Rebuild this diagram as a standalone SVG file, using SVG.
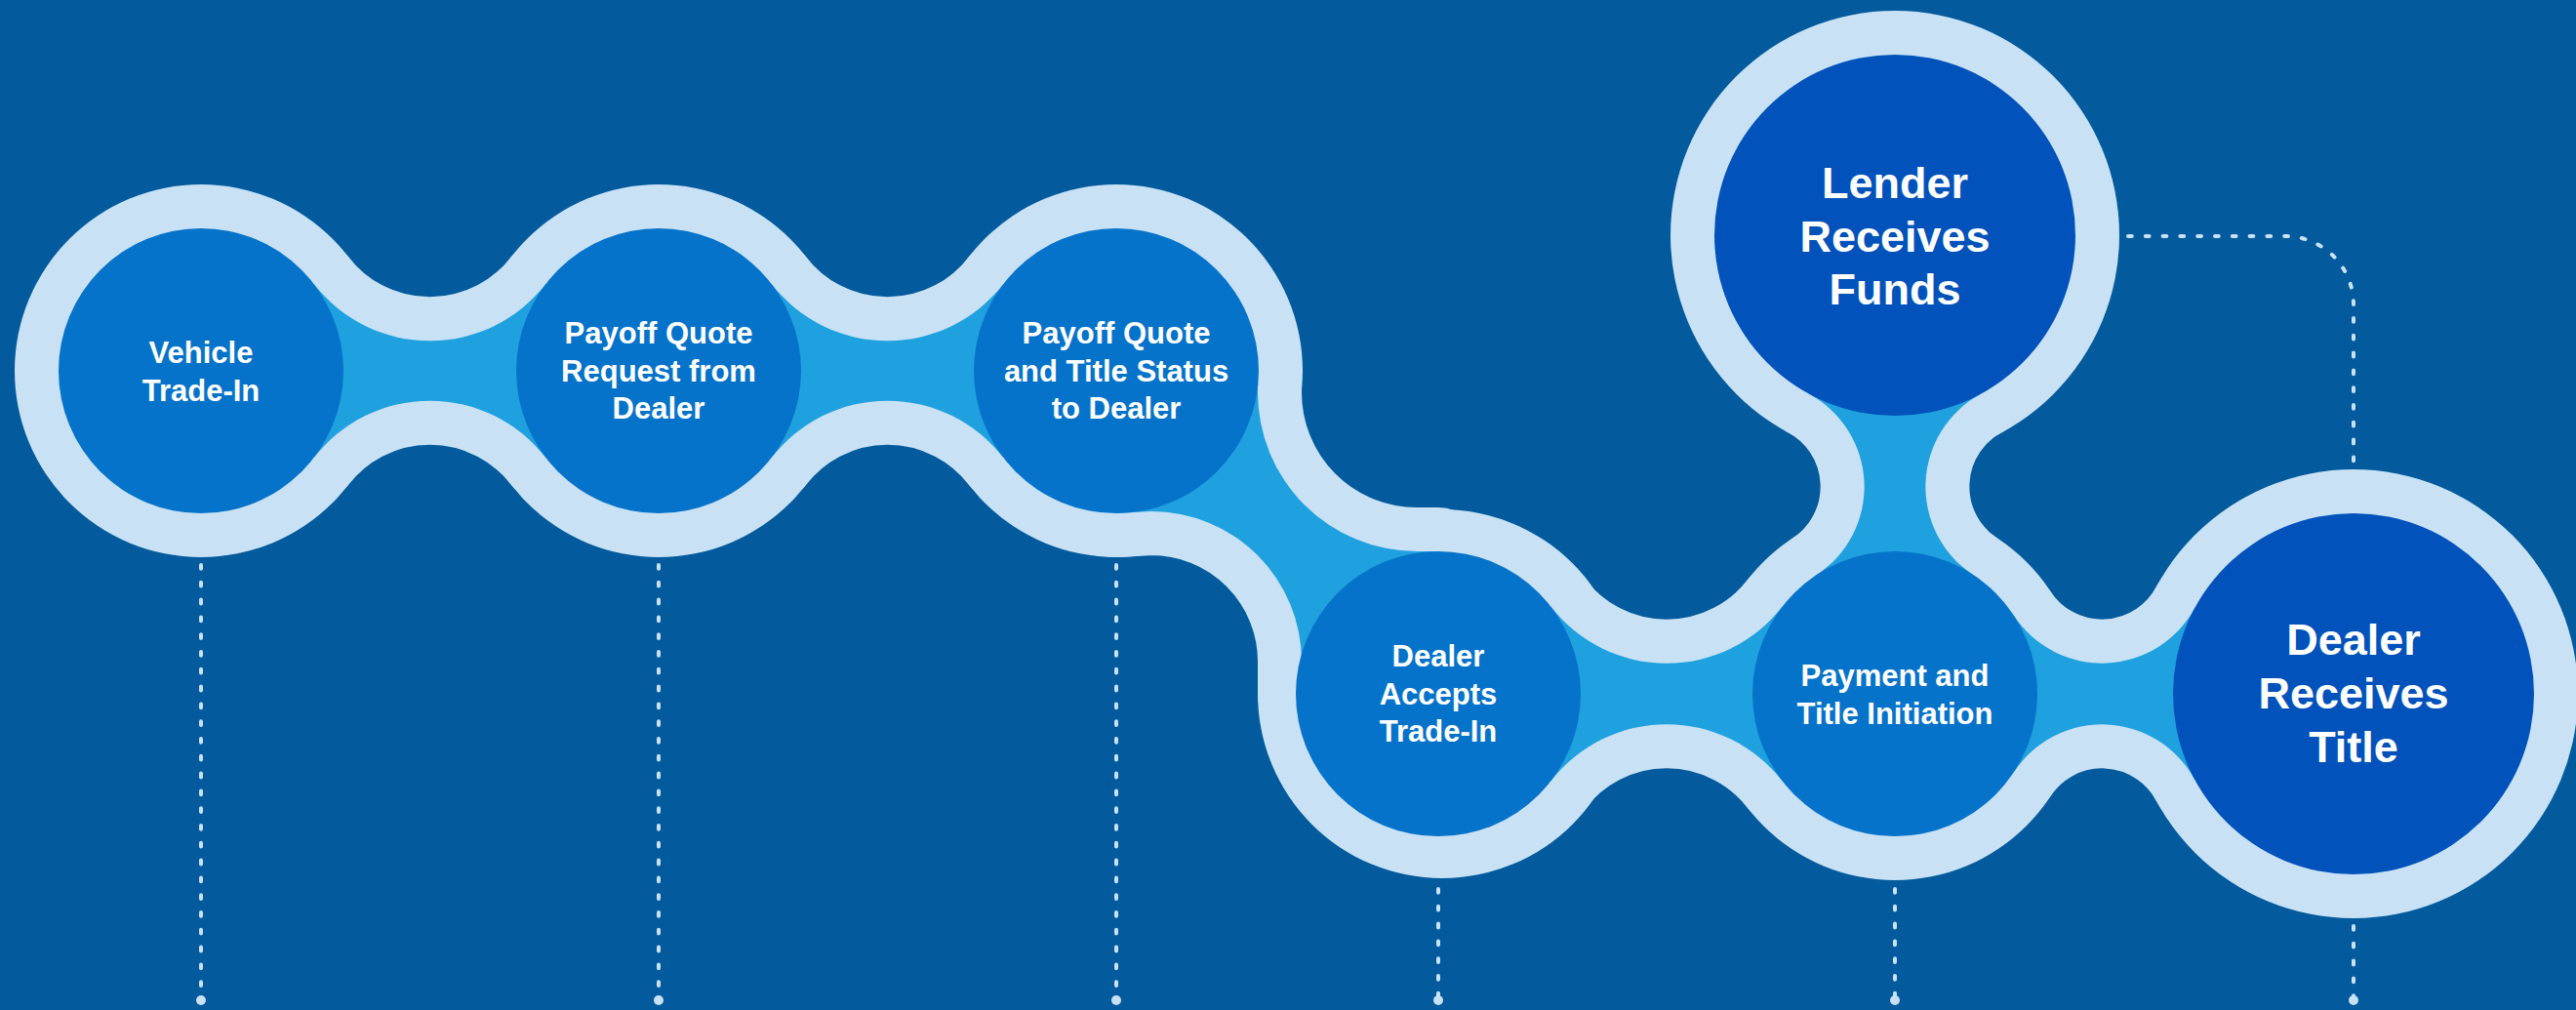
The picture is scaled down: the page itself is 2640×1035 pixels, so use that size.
<svg xmlns="http://www.w3.org/2000/svg" width="2640" height="1035" viewBox="0 0 2640 1035">
  <defs>
    <style>
      .halo { fill: #c8e1f4; }
      .band { fill: #c8e1f4; stroke: #c8e1f4; stroke-width: 90; stroke-linejoin: round; }
      .channel { fill: #20a1df; }
      .step { fill: #0673ca; }
      .goal { fill: #0152bb; }
      .lbl { fill: #ffffff; font-family: "Liberation Sans", Arial, Helvetica, sans-serif; font-weight: bold; text-anchor: middle; }
      .sm { font-size: 31px; }
      .lg { font-size: 45px; }
      .dots { fill: none; stroke: #c8e1f4; stroke-width: 4; stroke-linecap: round; stroke-dasharray: 3.8 14; }
      .tip { fill: #c8e1f4; }
    </style>
    <!-- channel outlines between neighbouring steps -->
    <path id="n12" d="M206,380 L321.7,290.9 A150 150 0 0 0 559.3,290.9 L675,380 L559.3,469.1 A150 150 0 0 0 321.7,469.1 Z"/>
    <path id="n23" d="M675,380 L790.7,290.9 A150 150 0 0 0 1028.3,290.9 L1144,380 L1028.3,469.1 A150 150 0 0 0 790.7,469.1 Z"/>
    <path id="n34" d="M1144,380 L1289,380 L1289,402 A163 163 0 0 0 1452,565 L1474,565 L1478,711 L1334,711 L1334,678 A154 154 0 0 0 1180,524 L1144,526 Z"/>
    <path id="n45" d="M1474,711 L1589.4,621.6 A150 150 0 0 0 1826.6,621.6 L1942,711 L1826.6,800.4 A150 150 0 0 0 1589.4,800.4 Z"/>
    <path id="n56" d="M1942,711 L2064,630.9 A108 108 0 0 0 2249.3,623 L2412,711 L2249.3,799 A108 108 0 0 0 2064,791.1 Z"/>
    <path id="n57" d="M1942,241 L1854,403.7 A108 108 0 0 1 1861.9,589 L1942,711 L2022.1,589 A108 108 0 0 1 2030,403.7 Z"/>
  </defs>

  <rect width="2640" height="1035" fill="#035a9c"/>

  <!-- light outer track -->
  <g id="track">
    <circle class="halo" cx="206" cy="380" r="191"/>
    <circle class="halo" cx="675" cy="380" r="191"/>
    <circle class="halo" cx="1144" cy="380" r="191"/>
    <circle class="halo" cx="1478" cy="711" r="189"/>
    <circle class="halo" cx="1942" cy="711" r="191"/>
    <circle class="halo" cx="2412" cy="711" r="230"/>
    <circle class="halo" cx="1942" cy="241" r="230"/>
    <use href="#n12" class="band"/>
    <use href="#n23" class="band"/>
    <use href="#n34" class="band"/>
    <use href="#n45" class="band"/>
    <use href="#n56" class="band"/>
    <use href="#n57" class="band"/>
  </g>

  <g id="connectors">
    <use href="#n12" class="channel"/>
    <use href="#n23" class="channel"/>
    <use href="#n34" class="channel"/>
    <use href="#n45" class="channel"/>
    <use href="#n56" class="channel"/>
    <use href="#n57" class="channel"/>
    <!-- dotted drop lines -->
    <path class="dots" d="M206,579 V1022"/>
    <path class="dots" d="M675,579 V1022"/>
    <path class="dots" d="M1144,579 V1022"/>
    <path class="dots" d="M1474,911 V1022"/>
    <path class="dots" d="M1942,911 V1022"/>
    <path class="dots" d="M2412,949 V1022"/>
    <circle class="tip" cx="206" cy="1025" r="5"/>
    <circle class="tip" cx="675" cy="1025" r="5"/>
    <circle class="tip" cx="1144" cy="1025" r="5"/>
    <circle class="tip" cx="1474" cy="1025" r="5"/>
    <circle class="tip" cx="1942" cy="1025" r="5"/>
    <circle class="tip" cx="2412" cy="1025" r="5"/>
    <!-- funds to title link -->
    <path class="dots" d="M2181,242 H2342 A70 70 0 0 1 2412,312 V474"/>
  </g>

  <g id="vehicle-trade-in">
    <circle class="step" cx="206" cy="380" r="146"/>
    <text class="lbl sm"><tspan x="206" y="372">Vehicle</tspan><tspan x="206" y="411">Trade-In</tspan></text>
  </g>

  <g id="payoff-quote-request">
    <circle class="step" cx="675" cy="380" r="146"/>
    <text class="lbl sm"><tspan x="675" y="352">Payoff Quote</tspan><tspan x="675" y="391">Request from</tspan><tspan x="675" y="429">Dealer</tspan></text>
  </g>

  <g id="payoff-quote-title-status">
    <circle class="step" cx="1144" cy="380" r="146"/>
    <text class="lbl sm"><tspan x="1144" y="352">Payoff Quote</tspan><tspan x="1144" y="391">and Title Status</tspan><tspan x="1144" y="429">to Dealer</tspan></text>
  </g>

  <g id="dealer-accepts-trade-in">
    <circle class="step" cx="1474" cy="711" r="146"/>
    <text class="lbl sm"><tspan x="1474" y="683">Dealer</tspan><tspan x="1474" y="722">Accepts</tspan><tspan x="1474" y="760">Trade-In</tspan></text>
  </g>

  <g id="payment-title-initiation">
    <circle class="step" cx="1942" cy="711" r="146"/>
    <text class="lbl sm"><tspan x="1942" y="703">Payment and</tspan><tspan x="1942" y="742">Title Initiation</tspan></text>
  </g>

  <g id="dealer-receives-title">
    <circle class="goal" cx="2412" cy="711" r="185"/>
    <text class="lbl lg"><tspan x="2412" y="671">Dealer</tspan><tspan x="2412" y="726">Receives</tspan><tspan x="2412" y="781">Title</tspan></text>
  </g>

  <g id="lender-receives-funds">
    <circle class="goal" cx="1942" cy="241" r="185"/>
    <text class="lbl lg"><tspan x="1942" y="203">Lender</tspan><tspan x="1942" y="258">Receives</tspan><tspan x="1942" y="312">Funds</tspan></text>
  </g>
</svg>
